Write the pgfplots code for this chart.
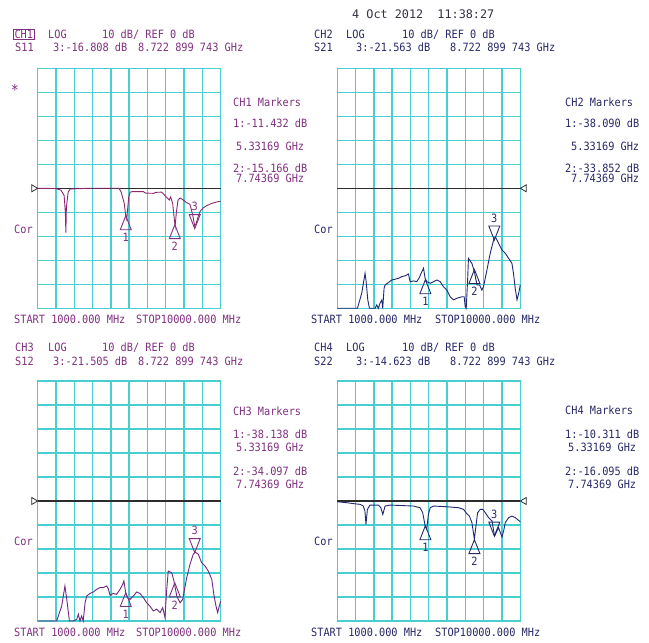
\documentclass[border=0pt]{standalone}
\usepackage{fontspec}
\setmonofont{DejaVu Sans Mono}
\newfontfamily\vnafont{DejaVu Sans Mono}[FakeStretch=0.9]
\usepackage{pgfplots}
\pgfplotsset{compat=1.18}
\definecolor{gridc}{RGB}{72,206,206}
\definecolor{purp}{RGB}{128,48,128}
\definecolor{navy}{RGB}{40,40,105}
\definecolor{tr1}{RGB}{140,40,115}
\definecolor{tr3}{RGB}{110,40,125}
\definecolor{trb}{RGB}{30,40,115}
\definecolor{refc}{RGB}{45,45,45}
\definecolor{datec}{RGB}{50,50,65}

\pgfdeclareplotmark{mkup}{\pgfpathmoveto{\pgfqpoint{0pt}{0pt}}\pgfpathlineto{\pgfqpoint{5.5pt}{-14pt}}\pgfpathlineto{\pgfqpoint{-5.5pt}{-14pt}}\pgfpathclose\pgfusepathqstroke}
\pgfdeclareplotmark{mkdown}{\pgfpathmoveto{\pgfqpoint{0pt}{0pt}}\pgfpathlineto{\pgfqpoint{5.5pt}{14pt}}\pgfpathlineto{\pgfqpoint{-5.5pt}{14pt}}\pgfpathclose\pgfusepathqstroke}
\pgfdeclareplotmark{refL}{\pgfpathmoveto{\pgfqpoint{0pt}{0pt}}\pgfpathlineto{\pgfqpoint{-6pt}{3.5pt}}\pgfpathlineto{\pgfqpoint{-6pt}{-3.5pt}}\pgfpathclose\pgfusepathqstroke}
\pgfdeclareplotmark{refR}{\pgfpathmoveto{\pgfqpoint{0pt}{0pt}}\pgfpathlineto{\pgfqpoint{6pt}{3.5pt}}\pgfpathlineto{\pgfqpoint{6pt}{-3.5pt}}\pgfpathclose\pgfusepathqstroke}

\newcommand{\mfont}{\vnafont\fontsize{11.4}{13}\selectfont}

\pgfplotsset{
  vna/.style={scale only axis, width=183pt, height=240pt, anchor=south west,
    xmin=1, xmax=10, ymin=-50, ymax=50,
    xtick={1,1.9,2.8,3.7,4.6,5.5,6.4,7.3,8.2,9.1,10},
    ytick={-50,-40,-30,-20,-10,0,10,20,30,40,50},
    xticklabels={}, yticklabels={}, major tick length=0pt,
    grid=major, grid style={gridc, line width=1.4pt},
    axis line style={gridc, line width=1.4pt}, clip=false},
  mkup/.style={#1, line width=0.9pt, only marks, mark=mkup, point meta=explicit symbolic,
    nodes near coords, nodes near coords align={anchor=center},
    every node near coord/.append style={anchor=center, yshift=-22pt, font=\mfont, text=#1}},
  mkdn/.style={#1, line width=0.9pt, only marks, mark=mkdown, point meta=explicit symbolic,
    nodes near coords, nodes near coords align={anchor=center},
    every node near coord/.append style={anchor=center, yshift=22pt, font=\mfont, text=#1}},
  refline/.style={refc, line width=1.3pt, mark=none},
}
\tikzset{t/.style={anchor=base west, inner sep=0pt, font=\mfont}}

\begin{document}
\begin{tikzpicture}
\useasboundingbox (0,0) rectangle (649pt,643pt);

% ---------------- CH1 ----------------
\begin{axis}[vna, at={(37.7pt,334.7pt)}]
\addplot[refline] coordinates {(1,0) (10,0)};
\addplot[refc, line width=0.8pt, only marks, mark=refL] coordinates {(1,0)};
\addplot[tr1, line width=0.9pt, mark=none] coordinates {
(1.0,0) (1.9,-0.1) (2.15,-0.8) (2.3,-3) (2.36,-10) (2.385,-18.5) (2.41,-8) (2.5,-1.5) (2.6,-0.3)
(3.5,0) (5.0,0) (5.1,-1.5) (5.25,-6) (5.33,-11.4) (5.38,-13) (5.43,-8) (5.48,-3.5) (5.55,-1.6)
(5.65,-1.4) (6.2,-1.4) (6.3,-2.0) (6.7,-2.1) (6.8,-1.7) (7.1,-1.6) (7.2,-2.5) (7.35,-3.9)
(7.47,-4.9) (7.54,-3.6) (7.64,-6.5) (7.72,-13) (7.76,-15.7) (7.82,-10) (7.9,-5) (8.0,-4.0)
(8.16,-4.9) (8.33,-6.0) (8.49,-6.7) (8.62,-11) (8.72,-15.7) (8.8,-14.5) (8.9,-11.5) (9.0,-9.4)
(9.14,-8.2) (9.3,-7.3) (9.56,-6.3) (9.8,-5.7) (10.0,-5.4)};
\addplot[mkup=purp] coordinates {(5.33169,-11.432) [1] (7.74369,-15.166) [2]};
\addplot[mkdn=purp] coordinates {(8.722899743,-16.808) [3]};
\end{axis}

% ---------------- CH2 ----------------
\begin{axis}[vna, at={(337.3pt,334.7pt)}]
\addplot[refline] coordinates {(1,0) (10,0)};
\addplot[refc, line width=0.8pt, only marks, mark=refR] coordinates {(10,0)};
\addplot[trb, line width=0.9pt, mark=none] coordinates {
(1.0,-50) (1.99,-50) (2.20,-43.8) (2.365,-35.4) (2.41,-38.2) (2.50,-46.5) (2.58,-50) (2.69,-50)
(2.86,-50) (2.94,-48.6) (3.02,-50) (3.10,-47.9) (3.19,-46.5) (3.235,-50) (3.30,-41.7) (3.35,-40.3)
(3.51,-39.3) (3.68,-38.2) (3.84,-37.9) (4.01,-37.5) (4.17,-36.8) (4.33,-36.5) (4.50,-35.7)
(4.58,-38.9) (4.75,-38.6) (4.91,-38.9) (5.04,-37.1) (5.16,-34.7) (5.24,-33.3) (5.32,-37.5)
(5.40,-38.9) (5.57,-39.6) (5.73,-38.9) (5.90,-38.2) (6.06,-38.9) (6.22,-41.0) (6.39,-42.4)
(6.55,-45.2) (6.72,-46.5) (6.88,-45.8) (7.13,-45.2) (7.24,-45.2) (7.29,-49.3) (7.34,-50)
(7.41,-38.2) (7.45,-29.2) (7.62,-31.3) (7.74,-34.7) (7.87,-40.3) (8.00,-40.3) (8.11,-42.4)
(8.19,-41.0) (8.36,-34.0) (8.52,-27.1) (8.69,-21.5) (8.77,-20.2) (8.93,-22.9) (9.10,-25.7)
(9.26,-27.1) (9.43,-29.2) (9.59,-31.3) (9.67,-35.7) (9.75,-41.7) (9.84,-46.5) (9.92,-43.8) (10.0,-40.3)};
\addplot[mkup=navy] coordinates {(5.33169,-38.090) [1] (7.74369,-33.852) [2]};
\addplot[mkdn=navy] coordinates {(8.722899743,-21.563) [3]};
\end{axis}

% ---------------- CH3 ----------------
\begin{axis}[vna, at={(37.7pt,22pt)}]
\addplot[refline] coordinates {(1,0) (10,0)};
\addplot[refc, line width=0.8pt, only marks, mark=refL] coordinates {(1,0)};
\addplot[tr3, line width=0.9pt, mark=none] coordinates {
(1.0,-50) (1.93,-50) (2.18,-43.8) (2.34,-35.4) (2.43,-41.0) (2.56,-50) (2.75,-50) (2.92,-49.3)
(3.00,-47.2) (3.08,-50) (3.16,-47.9) (3.24,-50) (3.33,-42.4) (3.41,-39.6) (3.57,-38.5) (3.74,-37.9)
(3.90,-36.8) (4.06,-36.1) (4.23,-36.1) (4.39,-35.4) (4.47,-36.5) (4.56,-39.3) (4.72,-38.5)
(4.88,-38.9) (5.05,-36.8) (5.18,-34.7) (5.24,-33.3) (5.34,-38.9) (5.41,-40.3) (5.54,-41.0)
(5.70,-39.6) (5.87,-37.9) (6.03,-38.5) (6.20,-40.3) (6.36,-42.4) (6.52,-43.8) (6.69,-45.8)
(6.85,-45.1) (7.02,-46.5) (7.15,-44.4) (7.26,-48.6) (7.34,-37.5) (7.42,-29.2) (7.59,-29.9)
(7.70,-33.3) (7.84,-39.6) (8.00,-42.4) (8.13,-41.0) (8.33,-31.9) (8.49,-26.4) (8.65,-22.2)
(8.74,-21.25) (8.90,-22.2) (9.06,-25.7) (9.23,-27.1) (9.39,-29.2) (9.56,-32.6) (9.67,-39.3)
(9.77,-43.8) (9.85,-46.5) (9.93,-43.8) (10.0,-41.7)};
\addplot[mkup=purp] coordinates {(5.33169,-38.138) [1] (7.74369,-34.097) [2]};
\addplot[mkdn=purp] coordinates {(8.722899743,-21.505) [3]};
\end{axis}

% ---------------- CH4 ----------------
\begin{axis}[vna, at={(337.3pt,22pt)}]
\addplot[refline] coordinates {(1,0) (10,0)};
\addplot[refc, line width=0.8pt, only marks, mark=refR] coordinates {(10,0)};
\addplot[trb, line width=0.9pt, mark=none] coordinates {
(1.0,-0.3) (1.46,-0.7) (1.79,-1.1) (2.12,-1.4) (2.28,-2.1) (2.36,-4.2) (2.41,-9.7) (2.48,-3.5)
(2.61,-1.7) (3.02,-1.7) (3.14,-2.8) (3.24,-5.6) (3.35,-2.1) (3.60,-1.7) (4.75,-2.1) (5.07,-2.8)
(5.20,-4.9) (5.32,-10.3) (5.40,-11.8) (5.48,-5.6) (5.57,-2.8) (5.73,-2.1) (6.39,-2.4) (6.96,-2.8)
(7.21,-3.5) (7.37,-5.3) (7.50,-6.3) (7.62,-9.0) (7.74,-15.8) (7.83,-9.7) (7.90,-4.9) (8.03,-3.5)
(8.16,-3.5) (8.28,-4.9) (8.44,-6.9) (8.61,-8.3) (8.69,-12.5) (8.74,-14.6) (8.80,-13.5) (8.85,-12.5)
(8.93,-11.1) (9.02,-13.2) (9.10,-15.0) (9.18,-12.5) (9.26,-9.0) (9.43,-6.9) (9.59,-6.3) (9.75,-6.9)
(9.92,-8.1) (10.0,-8.6)};
\addplot[mkup=navy] coordinates {(5.33169,-10.311) [1] (7.74369,-16.095) [2]};
\addplot[mkdn=navy] coordinates {(8.722899743,-14.623) [3]};
\end{axis}

% ---------------- texts ----------------
\node[t, text=datec, font=\ttfamily\fontsize{11.8}{13}\selectfont] at (352pt,624pt) {4 Oct 2012~~11:38:27};

% CH1
\node[anchor=base west, inner xsep=1.2pt, inner ysep=1pt, draw=purp, line width=0.7pt, text=purp, font=\mfont] at (13pt,604.5pt) {CH1};
\node[t, text=purp] at (48pt,604.5pt) {LOG};
\node[t, text=purp] at (102pt,604.5pt) {10~dB/~REF~0~dB};
\node[t, text=purp] at (15pt,591pt) {S11};
\node[t, text=purp] at (53pt,591pt) {3:-16.808~dB};
\node[t, text=purp] at (138pt,591pt) {8.722~899~743~GHz};
\node[anchor=center, inner sep=0pt, text=purp, font=\vnafont\fontsize{15}{15}\selectfont] at (15pt,553pt) {*};
\node[t, text=purp] at (233pt,536.5pt) {CH1~Markers};
\node[t, text=purp] at (233pt,515pt) {1:-11.432~dB};
\node[t, text=purp] at (236pt,492pt) {5.33169~GHz};
\node[t, text=purp] at (233pt,470pt) {2:-15.166~dB};
\node[t, text=purp] at (236pt,460pt) {7.74369~GHz};
\node[t, text=purp] at (14pt,409pt) {Cor};
\node[t, text=purp] at (14pt,319pt) {START~1000.000~MHz};
\node[t, text=purp] at (136pt,319pt) {STOP10000.000~MHz};

% CH2
\node[t, text=navy] at (314pt,604.5pt) {CH2};
\node[t, text=navy] at (346pt,604.5pt) {LOG};
\node[t, text=navy] at (402pt,604.5pt) {10~dB/~REF~0~dB};
\node[t, text=navy] at (314pt,591pt) {S21};
\node[t, text=navy] at (356pt,591pt) {3:-21.563~dB};
\node[t, text=navy] at (450pt,591pt) {8.722~899~743~GHz};
\node[t, text=navy] at (565pt,536.5pt) {CH2~Markers};
\node[t, text=navy] at (565pt,515pt) {1:-38.090~dB};
\node[t, text=navy] at (571pt,492pt) {5.33169~GHz};
\node[t, text=navy] at (565pt,470pt) {2:-33.852~dB};
\node[t, text=navy] at (571pt,460pt) {7.74369~GHz};
\node[t, text=navy] at (314pt,409pt) {Cor};
\node[t, text=navy] at (311pt,319pt) {START~1000.000~MHz};
\node[t, text=navy] at (435pt,319pt) {STOP10000.000~MHz};

% CH3
\node[t, text=purp] at (15pt,291pt) {CH3};
\node[t, text=purp] at (48pt,291pt) {LOG};
\node[t, text=purp] at (102pt,291pt) {10~dB/~REF~0~dB};
\node[t, text=purp] at (15pt,277.5pt) {S12};
\node[t, text=purp] at (53pt,277.5pt) {3:-21.505~dB};
\node[t, text=purp] at (138pt,277.5pt) {8.722~899~743~GHz};
\node[t, text=purp] at (233pt,227.5pt) {CH3~Markers};
\node[t, text=purp] at (233pt,204pt) {1:-38.138~dB};
\node[t, text=purp] at (236pt,191pt) {5.33169~GHz};
\node[t, text=purp] at (233pt,167.5pt) {2:-34.097~dB};
\node[t, text=purp] at (236pt,154pt) {7.74369~GHz};
\node[t, text=purp] at (14pt,97pt) {Cor};
\node[t, text=purp] at (14pt,6pt) {START~1000.000~MHz};
\node[t, text=purp] at (136pt,6pt) {STOP10000.000~MHz};

% CH4
\node[t, text=navy] at (314pt,291pt) {CH4};
\node[t, text=navy] at (346pt,291pt) {LOG};
\node[t, text=navy] at (402pt,291pt) {10~dB/~REF~0~dB};
\node[t, text=navy] at (314pt,277.5pt) {S22};
\node[t, text=navy] at (356pt,277.5pt) {3:-14.623~dB};
\node[t, text=navy] at (450pt,277.5pt) {8.722~899~743~GHz};
\node[t, text=navy] at (565pt,228pt) {CH4~Markers};
\node[t, text=navy] at (565pt,204pt) {1:-10.311~dB};
\node[t, text=navy] at (568pt,191pt) {5.33169~GHz};
\node[t, text=navy] at (565pt,167.5pt) {2:-16.095~dB};
\node[t, text=navy] at (568pt,154pt) {7.74369~GHz};
\node[t, text=navy] at (314pt,97pt) {Cor};
\node[t, text=navy] at (311pt,6pt) {START~1000.000~MHz};
\node[t, text=navy] at (435pt,6pt) {STOP10000.000~MHz};
\end{tikzpicture}
\end{document}
